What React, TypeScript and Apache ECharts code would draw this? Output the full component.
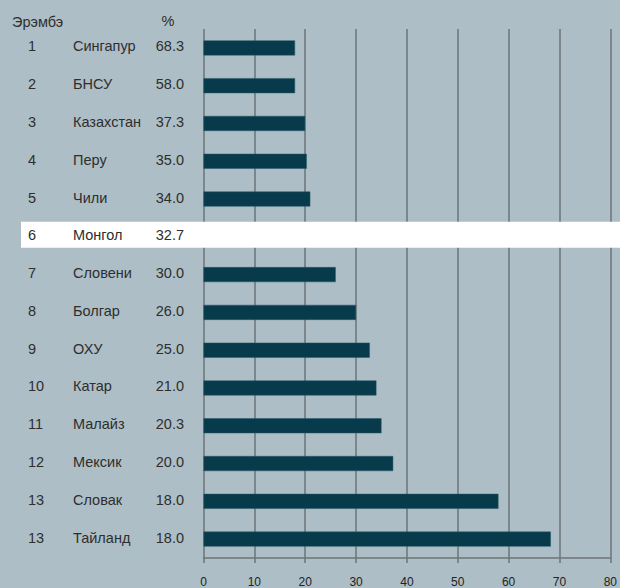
import React, { useEffect, useRef } from "react";
import * as echarts from "echarts";

const ranks = ["1", "2", "3", "4", "5", "6", "7", "8", "9", "10", "11", "12", "13", "13"];
const countries = [
  "Сингапур", "БНСУ", "Казахстан", "Перу", "Чили", "Монгол", "Словени",
  "Болгар", "ОХУ", "Катар", "Малайз", "Мексик", "Словак", "Тайланд",
];
const percents = ["68.3", "58.0", "37.3", "35.0", "34.0", "32.7", "30.0", "26.0", "25.0", "21.0", "20.3", "20.0", "18.0", "18.0"];
const barValues = [18, 18, 20, 20.3, 21, 25, 26, 30, 32.7, 34, 35, 37.3, 58, 68.3];
const highlightIndex = 5;
const xMin = 0;
const xMax = 80;
const xStep = 10;
const headerRank = "Эрэмбэ";
const headerPct = "%";

export default function App() {
  const ref = useRef<HTMLDivElement>(null);
  useEffect(() => {
    if (!ref.current) return;
    const chart = echarts.init(ref.current, null, { renderer: "svg" });
    const font = "'Liberation Sans', Arial, sans-serif";
    const txt = "#2e2e2e";
    chart.setOption({
      animation: false,
      backgroundColor: "#adbec6",
      grid: { left: 203.5, right: 8.5, top: 29, bottom: 29, containLabel: false },
      xAxis: {
        type: "value",
        min: xMin,
        max: xMax,
        interval: xStep,
        z: 1,
        axisLine: { show: true, lineStyle: { color: "#6d7478", width: 1.5 } },
        axisTick: { show: true, length: 5, lineStyle: { color: "#6d7478", width: 1.5 } },
        splitLine: { show: true, lineStyle: { color: "#6d7478", width: 1.5 } },
        axisLabel: { color: "#222", fontSize: 12, fontFamily: font, margin: 18 },
      },
      yAxis: {
        type: "category",
        inverse: true,
        z: 10,
        data: countries,
        axisLine: { show: false },
        axisTick: { show: false },
        splitLine: { show: false },
        axisLabel: {
          margin: 19.5,
          align: "right",
          color: txt,
          fontSize: 14.5,
          fontFamily: font,
          formatter: (v: string, i: number) => `{r|${ranks[i]}}{n|${v}}{v|${percents[i]}}`,
          rich: {
            r: { width: 45, align: "left", fontSize: 14.5, fontFamily: font, color: txt, padding: [0, 0, 3, 0] },
            n: { width: 83, align: "left", fontSize: 14.5, fontFamily: font, color: txt, padding: [0, 0, 3, 0] },
            v: { width: 28, align: "right", fontSize: 14.5, fontFamily: font, color: txt, padding: [0, 0, 3, 0] },
          },
        },
      },
      series: [
        {
          type: "bar",
          data: barValues,
          barWidth: 15,
          z: 2,
          itemStyle: { color: "#073a4a", borderColor: "#2b5868", borderWidth: 0.5 },
        },
      ],
    });
    const yc = chart.convertToPixel({ yAxisIndex: 0 }, countries[highlightIndex]) as number;
    chart.setOption({
      graphic: [
        {
          type: "rect",
          z: 5,
          silent: true,
          shape: { x: 21, y: yc - 15, width: 600, height: 26 },
          style: { fill: "#ffffff" },
        },
        {
          type: "text",
          z: 11,
          x: 12,
          y: 22,
          style: { text: headerRank, fill: txt, font: `14.5px ${font}`, verticalAlign: "middle", align: "left" },
        },
        {
          type: "text",
          z: 11,
          x: 168,
          y: 21,
          style: { text: headerPct, fill: txt, font: `14.5px ${font}`, verticalAlign: "middle", align: "center" },
        },
      ],
    });
    return () => chart.dispose();
  }, []);
  return <div ref={ref} style={{ position: "fixed", left: 0, top: 0, width: 620, height: 588 }} />;
}
